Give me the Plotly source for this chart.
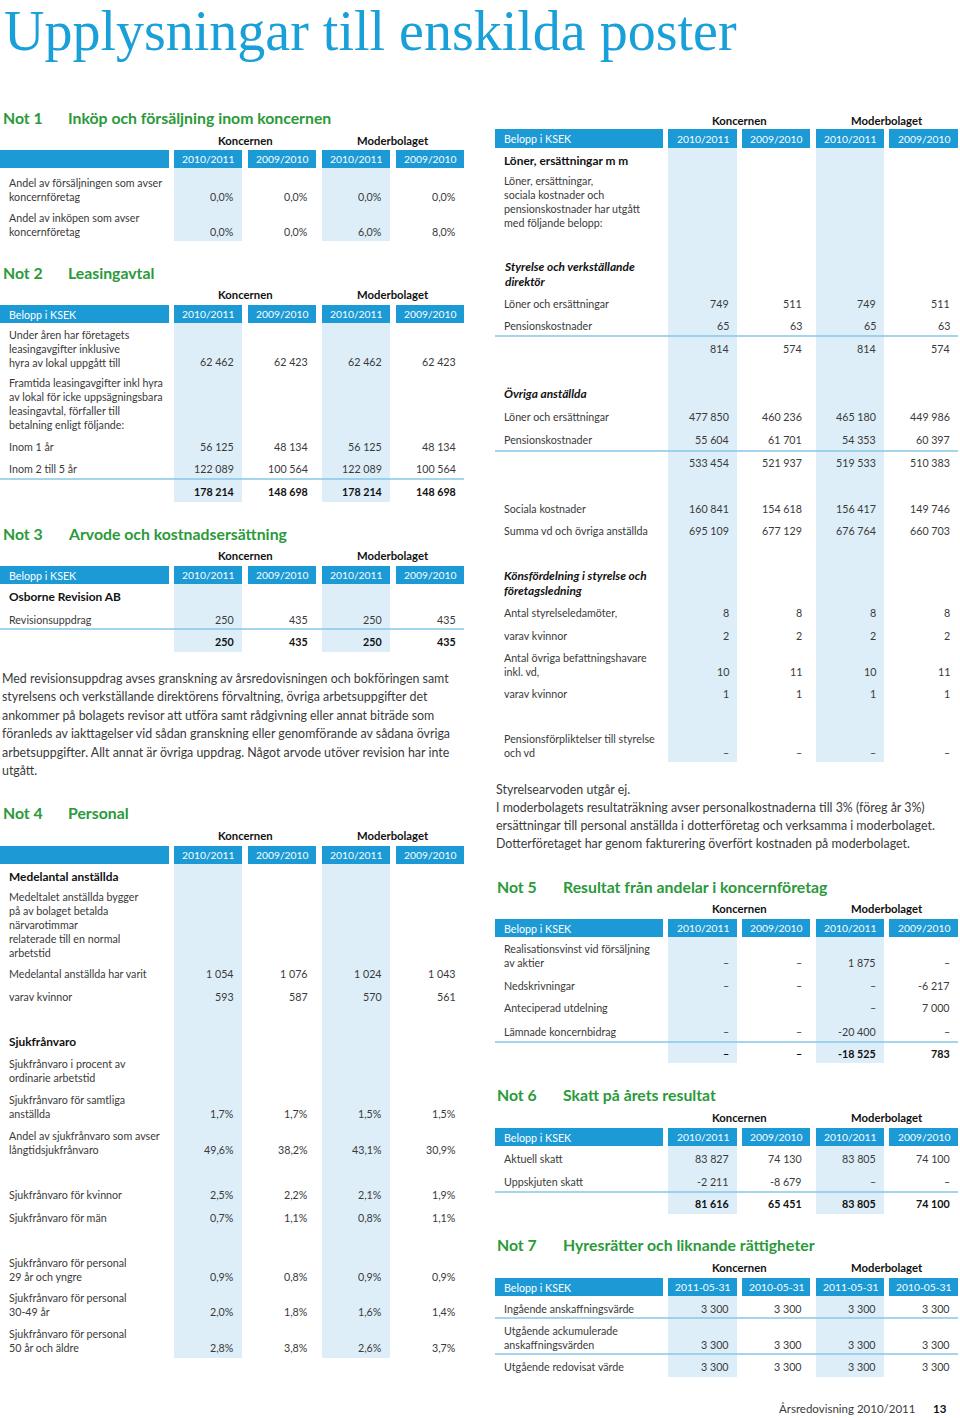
import plotly.graph_objects as go

# ---------------- DATA ----------------
title_text = "Upplysningar till enskilda poster"
groups = ["Koncernen", "Moderbolaget"]
years_fiscal = ["2010/2011", "2009/2010", "2010/2011", "2009/2010"]
years_dates = ["2011-05-31", "2010-05-31", "2011-05-31", "2010-05-31"]
unit_label = "Belopp i KSEK"
footer_text = "Årsredovisning 2010/2011"
page_number = "13"

not1_title = ("Not 1", "Inköp och försäljning inom koncernen")
not1_labels = ["Andel av försäljningen som avser<br>koncernföretag",
               "Andel av inköpen som avser<br>koncernföretag"]
not1_values = [["0,0%", "0,0%", "0,0%", "0,0%"],
               ["0,0%", "0,0%", "6,0%", "8,0%"]]

not2_title = ("Not 2", "Leasingavtal")
not2_labels = ["Under åren har företagets<br>leasingavgifter inklusive<br>hyra av lokal uppgått till",
               "Framtida leasingavgifter inkl hyra<br>av lokal för icke uppsägningsbara<br>leasingavtal, förfaller till<br>betalning enligt följande:",
               "Inom 1 år", "Inom 2 till 5 år", ""]
not2_values = [["62 462", "62 423", "62 462", "62 423"],
               None,
               ["56 125", "48 134", "56 125", "48 134"],
               ["122 089", "100 564", "122 089", "100 564"],
               ["178 214", "148 698", "178 214", "148 698"]]

not3_title = ("Not 3", "Arvode och kostnadsersättning")
not3_labels = ["Osborne Revision AB", "Revisionsuppdrag", ""]
not3_values = [None,
               ["250", "435", "250", "435"],
               ["250", "435", "250", "435"]]
not3_text = ["Med revisionsuppdrag avses granskning av årsredovisningen och bokföringen samt",
             "styrelsens och verkställande direktörens förvaltning, övriga arbetsuppgifter det",
             "ankommer på bolagets revisor att utföra samt rådgivning eller annat biträde som",
             "föranleds av iakttagelser vid sådan granskning eller genomförande av sådana övriga",
             "arbetsuppgifter. Allt annat är övriga uppdrag. Något arvode utöver revision har inte",
             "utgått."]

not4_title = ("Not 4", "Personal")
not4_labels = ["Medelantal anställda",
               "Medeltalet anställda bygger<br>på av bolaget betalda<br>närvarotimmar<br>relaterade till en normal<br>arbetstid",
               "Medelantal anställda har varit", "varav kvinnor",
               "Sjukfrånvaro",
               "Sjukfrånvaro i procent av<br>ordinarie arbetstid",
               "Sjukfrånvaro för samtliga<br>anställda",
               "Andel av sjukfrånvaro som avser<br>långtidsjukfrånvaro",
               "Sjukfrånvaro för kvinnor", "Sjukfrånvaro för män",
               "Sjukfrånvaro för personal<br>29 år och yngre",
               "Sjukfrånvaro för personal<br>30-49 år",
               "Sjukfrånvaro för personal<br>50 år och äldre"]
not4_values = [None, None,
               ["1 054", "1 076", "1 024", "1 043"],
               ["593", "587", "570", "561"],
               None, None,
               ["1,7%", "1,7%", "1,5%", "1,5%"],
               ["49,6%", "38,2%", "43,1%", "30,9%"],
               ["2,5%", "2,2%", "2,1%", "1,9%"],
               ["0,7%", "1,1%", "0,8%", "1,1%"],
               ["0,9%", "0,8%", "0,9%", "0,9%"],
               ["2,0%", "1,8%", "1,6%", "1,4%"],
               ["2,8%", "3,8%", "2,6%", "3,7%"]]

pers_labels = ["Löner, ersättningar m m",
               "Löner, ersättningar,<br>sociala kostnader och<br>pensionskostnader har utgått<br>med följande belopp:",
               "Styrelse och verkställande<br>direktör",
               "Löner och ersättningar", "Pensionskostnader", "",
               "Övriga anställda",
               "Löner och ersättningar", "Pensionskostnader", "",
               "Sociala kostnader", "Summa vd och övriga anställda",
               "Könsfördelning i styrelse och<br>företagsledning",
               "Antal styrelseledamöter,", "varav kvinnor",
               "Antal övriga befattningshavare<br>inkl. vd,", "varav kvinnor",
               "Pensionsförpliktelser till styrelse<br>och vd"]
pers_values = [None, None, None,
               ["749", "511", "749", "511"],
               ["65", "63", "65", "63"],
               ["814", "574", "814", "574"],
               None,
               ["477 850", "460 236", "465 180", "449 986"],
               ["55 604", "61 701", "54 353", "60 397"],
               ["533 454", "521 937", "519 533", "510 383"],
               ["160 841", "154 618", "156 417", "149 746"],
               ["695 109", "677 129", "676 764", "660 703"],
               None,
               ["8", "8", "8", "8"],
               ["2", "2", "2", "2"],
               ["10", "11", "10", "11"],
               ["1", "1", "1", "1"],
               ["–", "–", "–", "–"]]
pers_text = ["Styrelsearvoden utgår ej.",
             "I moderbolagets resultaträkning avser personalkostnaderna till 3% (föreg år 3%)",
             "ersättningar till personal anställda i dotterföretag och verksamma i moderbolaget.",
             "Dotterföretaget har genom fakturering överfört kostnaden på moderbolaget."]

not5_title = ("Not 5", "Resultat från andelar i koncernföretag")
not5_labels = ["Realisationsvinst vid försäljning<br>av aktier", "Nedskrivningar",
               "Anteciperad utdelning", "Lämnade koncernbidrag", ""]
not5_values = [["–", "–", "1 875", "–"],
               ["–", "–", "–", "-6 217"],
               ["", "", "–", "7 000"],
               ["–", "–", "-20 400", "–"],
               ["–", "–", "-18 525", "783"]]

not6_title = ("Not 6", "Skatt på årets resultat")
not6_labels = ["Aktuell skatt", "Uppskjuten skatt", ""]
not6_values = [["83 827", "74 130", "83 805", "74 100"],
               ["-2 211", "-8 679", "–", "–"],
               ["81 616", "65 451", "83 805", "74 100"]]

not7_title = ("Not 7", "Hyresrätter och liknande rättigheter")
not7_labels = ["Ingående anskaffningsvärde",
               "Utgående ackumulerade<br>anskaffningsvärden",
               "Utgående redovisat värde"]
not7_values = [["3 300", "3 300", "3 300", "3 300"],
               ["3 300", "3 300", "3 300", "3 300"],
               ["3 300", "3 300", "3 300", "3 300"]]

# ---------------- STYLE / LAYOUT ----------------
W, H = 960, 1418
FONT = "Lato"
C_TITLE = "#1aa0d9"
C_BAR = "#1b9ad6"
C_FILL = "#ddeef9"
C_GREEN = "#2a9a3a"
C_LINE = "#86c7e7"
C_TEXT = "#3a3a3a"
C_DARK = "#111111"
FS = 10.7
FS_BOLD = 11.9
LH = 12.9

LEFT = dict(bar=(0, 169), cols=[(174, 242), (248, 316), (322, 390), (396, 464)],
            label_x=8, line=(0, 464), head_x=(2, 67), text_x=1)
RIGHT = dict(bar=(495, 663), cols=[(668, 737), (742, 810), (816, 884), (889, 958)],
             label_x=503, line=(495, 958), head_x=(496, 562), text_x=495)

tables = [
    dict(g=LEFT, title=not1_title, title_y=117, group_y=140, bar_y=(150, 168), unit=False,
         years=years_fiscal, labels=not1_labels, values=not1_values,
         row_y=[196, 231], styles=["n", "n"], lines=[], fill_end=241),
    dict(g=LEFT, title=not2_title, title_y=272, group_y=294, bar_y=(305, 323), unit=True,
         years=years_fiscal, labels=not2_labels, values=not2_values,
         row_y=[361, 423, 446, 468, 491], styles=["n", "n", "n", "n", "b"], lines=[479], fill_end=502),
    dict(g=LEFT, title=not3_title, title_y=533, group_y=555, bar_y=(566, 584), unit=True,
         years=years_fiscal, labels=not3_labels, values=not3_values,
         row_y=[596, 619, 641], styles=["bl", "n", "b"], lines=[629], fill_end=652),
    dict(g=LEFT, title=not4_title, title_y=812, group_y=835, bar_y=(846, 864), unit=False,
         years=years_fiscal, labels=not4_labels, values=not4_values,
         row_y=[876, 950, 973, 996, 1041, 1077, 1113, 1149, 1194, 1217, 1276, 1311, 1347],
         styles=["bl", "n", "n", "n", "bl", "n", "n", "n", "n", "n", "n", "n", "n"],
         lines=[], fill_end=1358),
    dict(g=RIGHT, title=None, title_y=None, group_y=120, bar_y=(129, 148), unit=True,
         years=years_fiscal, labels=pers_labels, values=pers_values,
         row_y=[160, 221, 280, 303, 325, 348, 393, 416, 439, 462, 508, 530, 589, 612, 635, 671, 693, 752],
         styles=["bl", "n", "bi", "n", "n", "n", "bi", "n", "n", "n", "n", "n", "bi", "n", "n", "n", "n", "n"],
         lines=[336, 451], fill_end=762),
    dict(g=RIGHT, title=not5_title, title_y=886, group_y=908, bar_y=(919, 937), unit=True,
         years=years_fiscal, labels=not5_labels, values=not5_values,
         row_y=[962, 985, 1007, 1031, 1053], styles=["n", "n", "n", "n", "b"], lines=[1042], fill_end=1063),
    dict(g=RIGHT, title=not6_title, title_y=1094, group_y=1117, bar_y=(1128, 1146), unit=True,
         years=years_fiscal, labels=not6_labels, values=not6_values,
         row_y=[1158, 1181, 1203], styles=["n", "n", "b"], lines=[1192], fill_end=1214),
    dict(g=RIGHT, title=not7_title, title_y=1244, group_y=1267, bar_y=(1278, 1296), unit=True,
         years=years_dates, labels=not7_labels, values=not7_values,
         row_y=[1308, 1344, 1366], styles=["n", "n", "n"], lines=[1318, 1354], fill_end=1377),
]

paragraphs = [
    dict(g=LEFT, lines=not3_text, y0=678, step=18.5, size=12.4),
    dict(g=RIGHT, lines=pers_text, y0=789, step=18.3, size=12.4),
]

shapes = []
annotations = []


def ann(x, y, text, size=FS, color=C_TEXT, xanchor="left", yanchor="middle", family=FONT):
    annotations.append(dict(x=x, y=y, xref="x", yref="y", text=text, showarrow=False,
                            xanchor=xanchor, yanchor=yanchor,
                            align=xanchor if xanchor != "center" else "center",
                            font=dict(family=family, size=size, color=color), borderpad=0))


def rect(x0, x1, y0, y1, color):
    shapes.append(dict(type="rect", xref="x", yref="y", x0=x0, x1=x1, y0=y0, y1=y1,
                       fillcolor=color, line=dict(width=0), layer="below"))


# title
ann(3, 31, title_text, size=56, color=C_TITLE, family="Liberation Serif")

for t in tables:
    g = t["g"]
    cols = g["cols"]
    if t["title"]:
        ann(g["head_x"][0], t["title_y"], "<b>%s</b>" % t["title"][0], size=15.8, color=C_GREEN)
        ann(g["head_x"][1], t["title_y"], "<b>%s</b>" % t["title"][1], size=15.8, color=C_GREEN)
    ann((cols[0][0] + cols[1][1]) / 2, t["group_y"], "<b>%s</b>" % groups[0], size=11.3, color=C_DARK, xanchor="center")
    ann((cols[2][0] + cols[3][1]) / 2, t["group_y"], "<b>%s</b>" % groups[1], size=11.3, color=C_DARK, xanchor="center")
    by0, by1 = t["bar_y"]
    rect(g["bar"][0], g["bar"][1], by0, by1, C_BAR)
    for c in cols:
        rect(c[0], c[1], by0, by1, C_BAR)
    for ci in (0, 2):
        rect(cols[ci][0], cols[ci][1], by1, t["fill_end"], C_FILL)
    ymid = (by0 + by1) / 2
    if t["unit"]:
        ann(g["label_x"], ymid, unit_label, size=10.7, color="white")
    for c, yr in zip(cols, t["years"]):
        ann((c[0] + c[1]) / 2, ymid, yr, size=10.3, color="white", xanchor="center")
    for ly in t["lines"]:
        shapes.append(dict(type="line", xref="x", yref="y", x0=g["line"][0], x1=g["line"][1],
                           y0=ly, y1=ly, line=dict(color=C_LINE, width=1.5), layer="above"))
    for label, vals, y, st in zip(t["labels"], t["values"], t["row_y"], t["styles"]):
        if label:
            n = label.count("<br>") + 1
            yc = y - (n - 1) * LH / 2
            size = FS
            if st == "bl":
                txt, col, size = "<b>%s</b>" % label, C_DARK, FS_BOLD
            elif st == "bi":
                txt, col, size = "<b><i>%s</i></b>" % label, C_DARK, FS_BOLD
            else:
                txt, col = label, C_TEXT
            ann(g["label_x"], yc, txt, size=size, color=col)
        if vals:
            for c, v in zip(cols, vals):
                if not v:
                    continue
                if st == "b":
                    ann(c[1] - 7, y, "<b>%s</b>" % v, color=C_DARK, xanchor="right")
                else:
                    ann(c[1] - 7, y, v, color=C_TEXT, xanchor="right")

for p in paragraphs:
    for i, line in enumerate(p["lines"]):
        ann(p["g"]["text_x"], p["y0"] + i * p["step"], line, size=p["size"], color=C_TEXT)

ann(916, 1408, footer_text, size=11.5, color=C_TEXT, xanchor="right")
ann(932, 1408, "<b>%s</b>" % page_number, size=11.5, color=C_DARK)

fig = go.Figure()
fig.update_layout(
    width=W, height=H, margin=dict(l=0, r=0, t=0, b=0),
    paper_bgcolor="white", plot_bgcolor="white",
    xaxis=dict(range=[0, W], visible=False, fixedrange=True),
    yaxis=dict(range=[H, 0], visible=False, fixedrange=True),
    shapes=shapes, annotations=annotations, showlegend=False,
)
fig.write_html("out.html", config={"displayModeBar": False},
               post_script="document.body.style.margin='0';document.body.style.overflow='hidden';")
